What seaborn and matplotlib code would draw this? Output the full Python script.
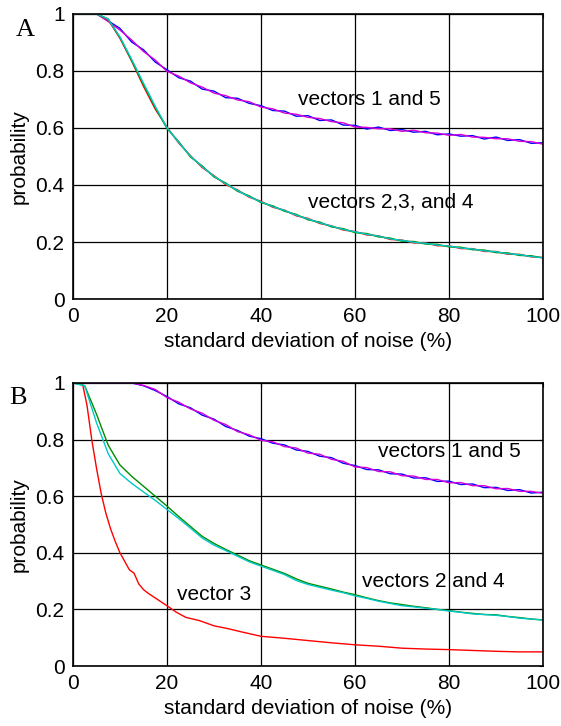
import matplotlib
matplotlib.use("Agg")
import matplotlib.pyplot as plt
import seaborn as sns

# noise levels (%) shared by most curves
noise = [0, 2.5, 5, 7.5, 10, 12.5, 15, 17.5, 20, 22.5, 25, 27.5, 30, 32.5, 35, 37.5,
         40, 42.5, 45, 47.5, 50, 52.5, 55, 57.5, 60, 62.5, 65, 67.5, 70, 72.5, 75,
         77.5, 80, 82.5, 85, 87.5, 90, 92.5, 95, 97.5, 100]

# panel A
a_vec1 = [1, 1, 1, 0.975, 0.949, 0.901, 0.874, 0.831, 0.804, 0.776, 0.764, 0.736, 0.729,
          0.706, 0.704, 0.686, 0.678, 0.661, 0.659, 0.641, 0.643, 0.626, 0.628, 0.61,
          0.609, 0.596, 0.603, 0.591, 0.594, 0.585, 0.588, 0.576, 0.579, 0.571, 0.573,
          0.561, 0.568, 0.556, 0.559, 0.546, 0.548]
a_vec5 = [1, 1, 1, 0.973, 0.943, 0.908, 0.868, 0.838, 0.798, 0.782, 0.758, 0.743, 0.722,
          0.713, 0.698, 0.692, 0.673, 0.667, 0.652, 0.648, 0.637, 0.633, 0.622, 0.618,
          0.603, 0.602, 0.597, 0.597, 0.588, 0.592, 0.583, 0.582, 0.574, 0.577, 0.568,
          0.567, 0.562, 0.562, 0.553, 0.552, 0.543]
a_vec3 = [1, 1, 1, 0.979, 0.914, 0.834, 0.746, 0.666, 0.603, 0.547, 0.503, 0.461, 0.433,
          0.401, 0.383, 0.357, 0.343, 0.322, 0.312, 0.292, 0.283, 0.265, 0.257, 0.242,
          0.237, 0.225, 0.222, 0.209, 0.207, 0.197, 0.197, 0.187, 0.187, 0.177, 0.177,
          0.167, 0.167, 0.157, 0.157, 0.148, 0.146]
a_vec2 = [1, 1, 1, 0.982, 0.917, 0.836, 0.752, 0.672, 0.598, 0.552, 0.498, 0.467, 0.428,
          0.407, 0.378, 0.362, 0.338, 0.327, 0.308, 0.297, 0.278, 0.27, 0.253, 0.247,
          0.233, 0.23, 0.218, 0.214, 0.203, 0.202, 0.193, 0.192, 0.183, 0.182, 0.173,
          0.172, 0.163, 0.162, 0.153, 0.152, 0.144]
a_vec4 = [1, 1, 1, 0.981, 0.919, 0.84, 0.757, 0.676, 0.601, 0.549, 0.501, 0.464, 0.431,
          0.404, 0.381, 0.359, 0.341, 0.324, 0.311, 0.294, 0.281, 0.267, 0.256, 0.244,
          0.236, 0.227, 0.221, 0.211, 0.206, 0.199, 0.196, 0.189, 0.186, 0.179, 0.176,
          0.169, 0.166, 0.159, 0.156, 0.149, 0.145]

# panel B
b_vec1 = [1, 1, 1, 1, 1, 1, 0.99, 0.973, 0.952, 0.926, 0.912, 0.886, 0.872, 0.846, 0.832,
          0.812, 0.803, 0.787, 0.781, 0.763, 0.758, 0.741, 0.736, 0.716, 0.708, 0.694,
          0.693, 0.679, 0.678, 0.664, 0.665, 0.652, 0.653, 0.641, 0.643, 0.63, 0.631,
          0.62, 0.623, 0.611, 0.614]
b_vec5 = [1, 1, 1, 1, 1, 1, 0.991, 0.977, 0.948, 0.932, 0.908, 0.893, 0.868, 0.853, 0.828,
          0.817, 0.797, 0.792, 0.775, 0.77, 0.752, 0.748, 0.73, 0.723, 0.703, 0.701,
          0.687, 0.686, 0.672, 0.671, 0.659, 0.659, 0.647, 0.648, 0.637, 0.637, 0.626,
          0.627, 0.617, 0.617, 0.61]
b_vec2 = [1, 0.99, 0.89, 0.78, 0.71, 0.67, 0.635, 0.6, 0.565, 0.528, 0.493, 0.458, 0.433,
          0.412, 0.392, 0.372, 0.357, 0.342, 0.327, 0.308, 0.292, 0.282, 0.272, 0.261,
          0.252, 0.241, 0.231, 0.223, 0.217, 0.211, 0.206, 0.2, 0.196, 0.19, 0.186,
          0.182, 0.181, 0.175, 0.171, 0.166, 0.163]
b_vec4 = [1, 0.99, 0.86, 0.75, 0.68, 0.645, 0.615, 0.585, 0.553, 0.521, 0.487, 0.452,
          0.427, 0.408, 0.388, 0.368, 0.353, 0.338, 0.323, 0.302, 0.288, 0.278, 0.268,
          0.259, 0.248, 0.239, 0.229, 0.221, 0.213, 0.209, 0.204, 0.2, 0.194, 0.19,
          0.184, 0.182, 0.179, 0.175, 0.169, 0.166, 0.162]
b_noise3 = [0, 2, 3, 4, 5, 6, 7, 8, 9, 10, 11, 12, 13, 14, 15, 16, 18, 20, 22, 24, 27, 30,
            33, 36, 40, 45, 50, 55, 60, 65, 70, 75, 80, 85, 90, 95, 100]
b_vec3 = [1, 1, 0.92, 0.8, 0.7, 0.61, 0.54, 0.485, 0.44, 0.4, 0.37, 0.34, 0.328, 0.29,
          0.27, 0.257, 0.235, 0.213, 0.19, 0.172, 0.16, 0.142, 0.132, 0.12, 0.105, 0.098,
          0.09, 0.082, 0.075, 0.07, 0.063, 0.06, 0.058, 0.055, 0.052, 0.05, 0.05]

ticks_x = [0, 20, 40, 60, 80, 100]
ticks_y = [0, 0.2, 0.4, 0.6, 0.8, 1]
tick_labels_y = ["0", "0.2", "0.4", "0.6", "0.8", "1"]

BLUE, MAG, RED, GREEN, CYAN = "#0000ff", "#d800d8", "#ff0000", "#008c00", "#00c8c8"

sns.set_style("white")
plt.rcParams["font.family"] = ["Liberation Sans", "DejaVu Sans"]
plt.rcParams["text.color"] = "black"
plt.rcParams["axes.labelcolor"] = "black"

FS = 15

fig = plt.figure(figsize=(5.61, 7.26), dpi=100)
ax_a = fig.add_axes([0.130, 0.588, 0.838, 0.393])
ax_b = fig.add_axes([0.130, 0.0826, 0.838, 0.390])


def style_axis(ax):
    ax.set_xlim(0, 100)
    ax.set_ylim(0, 1)
    ax.set_xticks(ticks_x)
    ax.set_yticks(ticks_y)
    ax.set_yticklabels(tick_labels_y)
    ax.grid(True, color="black", lw=0.9)
    ax.set_axisbelow(True)
    for s in ax.spines.values():
        s.set_visible(True)
        s.set_color("black")
        s.set_linewidth(1.2)
    ax.tick_params(direction="in", length=3, width=0.8, labelsize=FS,
                   colors="black", pad=6, right=True, top=True,
                   labelright=False, labeltop=False)
    ax.set_xlabel("standard deviation of noise (%)", fontsize=FS, labelpad=4)
    ax.set_ylabel("probability", fontsize=FS, labelpad=5)


lw = 1.0
sns.lineplot(x=noise, y=a_vec1, color=BLUE, lw=lw, ax=ax_a)
sns.lineplot(x=noise, y=a_vec5, color=MAG, lw=lw, ax=ax_a)
sns.lineplot(x=noise, y=a_vec3, color=RED, lw=lw, ax=ax_a)
sns.lineplot(x=noise, y=a_vec2, color=GREEN, lw=lw, ax=ax_a)
sns.lineplot(x=noise, y=a_vec4, color=CYAN, lw=lw, ax=ax_a)
style_axis(ax_a)
ax_a.text(47.9, 0.70, "vectors 1 and 5", fontsize=FS, va="center")
ax_a.text(50.0, 0.34, "vectors 2,3, and 4", fontsize=FS, va="center")

sns.lineplot(x=noise, y=b_vec1, color=BLUE, lw=lw, ax=ax_b)
sns.lineplot(x=noise, y=b_vec5, color=MAG, lw=lw, ax=ax_b)
sns.lineplot(x=b_noise3, y=b_vec3, color=RED, lw=lw, ax=ax_b)
sns.lineplot(x=noise, y=b_vec2, color=GREEN, lw=lw, ax=ax_b)
sns.lineplot(x=noise, y=b_vec4, color=CYAN, lw=lw, ax=ax_b)
style_axis(ax_b)
ax_b.text(64.9, 0.756, "vectors 1 and 5", fontsize=FS, va="center")
ax_b.text(61.5, 0.30, "vectors 2 and 4", fontsize=FS, va="center")
ax_b.text(22.1, 0.254, "vector 3", fontsize=FS, va="center")

fig.text(25 / 561, 1 - 30 / 726, "A", fontsize=19, family="Liberation Serif",
         ha="center", va="center")
fig.text(18 / 561, 1 - 398 / 726, "B", fontsize=19, family="Liberation Serif",
         ha="center", va="center")

fig.savefig("out.png", dpi=100)
